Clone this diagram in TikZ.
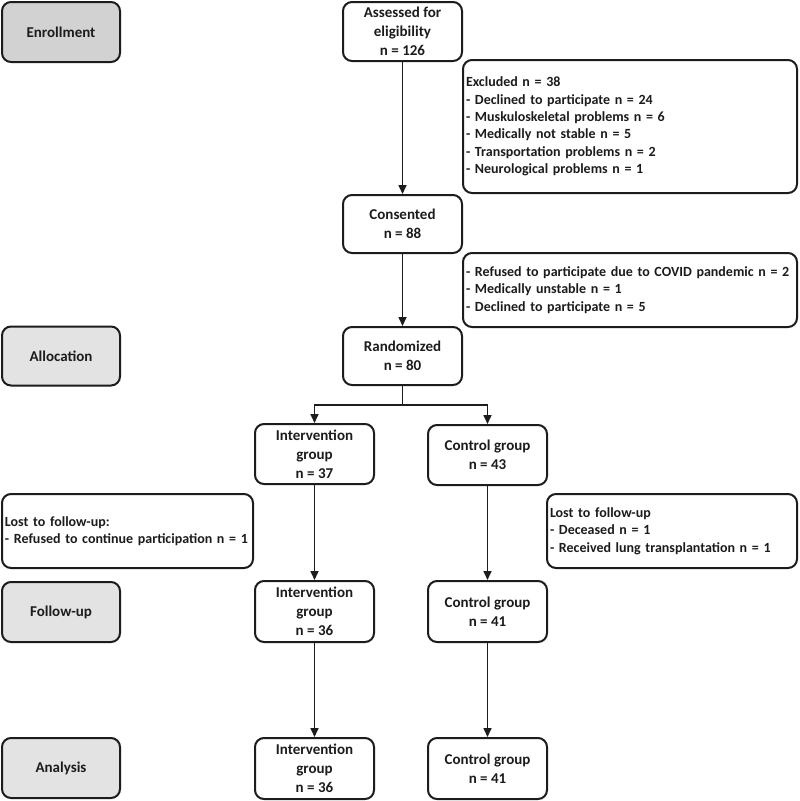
\documentclass[tikz,border=0pt]{standalone}
\usepackage{fontspec}
\setmainfont{Carlito}
\usetikzlibrary{arrows.meta}
\definecolor{phasedark}{HTML}{D2D2D2}
\definecolor{phaselight}{HTML}{E3E3E3}
\definecolor{ink}{HTML}{1C1C1C}
\tikzset{
  box/.style={draw=ink, line width=2pt, rounded corners=9pt, fill=white,
    text=ink, font=\fontsize{15}{19}\selectfont\bfseries, align=center, inner sep=2pt},
  listbox/.style={box, font=\fontsize{14}{17.3}\selectfont\bfseries, align=left, inner xsep=3pt},
  phase/.style={box, fill=phaselight, minimum width=118pt, minimum height=59pt},
  flowbox/.style={box, minimum width=119pt, minimum height=60pt},
  conn/.style={draw=ink, line width=1.6pt, -{Triangle[length=9pt,width=8pt]}},
  plain/.style={draw=ink, line width=1.6pt}
}
\begin{document}
\begin{tikzpicture}[x=1pt,y=-1pt]
\useasboundingbox[fill=white] (0,0) rectangle (800,801);
% phase labels
\node[phase, fill=phasedark, minimum height=60pt] (enr) at (61,32) {Enrollment};
\node[phase] (alloc) at (61,356) {Allocation};
\node[phase, minimum height=60pt] (fu) at (61,612) {Follow-up};
\node[phase, minimum height=60pt] (an) at (61,768) {Analysis};
% main flow
\node[flowbox, minimum height=59pt] (ass) at (402.5,31.5) {Assessed for\\eligibility\\n = 126};
\node[flowbox, minimum height=58pt] (con) at (402.5,224) {Consented\\n = 88};
\node[flowbox, minimum height=58pt] (ran) at (402.5,356) {Randomized\\n = 80};
\node[flowbox] (int1) at (314.5,454) {Intervention\\group\\n = 37};
\node[flowbox] (ctl1) at (487.5,455) {Control group\\n = 43};
\node[flowbox, minimum height=61pt] (int2) at (314.5,611.5) {Intervention\\group\\n = 36};
\node[flowbox, minimum height=61pt] (ctl2) at (487.5,611.5) {Control group\\n = 41};
\node[flowbox, minimum height=61pt] (int3) at (314.5,768.5) {Intervention\\group\\n = 36};
\node[flowbox, minimum height=61pt] (ctl3) at (487.5,768.5) {Control group\\n = 41};
% side boxes
\node[listbox, minimum width=334pt, minimum height=133pt, text width=328pt] (exc) at (630,126.5)
  {Excluded n = 38\\- Declined to participate n = 24\\- Muskuloskeletal problems n = 6\\- Medically not stable n = 5\\- Transportation problems n = 2\\- Neurological problems n = 1};
\node[listbox, minimum width=334pt, minimum height=74pt, text width=328pt] (cov) at (630,290)
  {- Refused to participate due to COVID pandemic n = 2\\- Medically unstable n = 1\\- Declined to participate n = 5};
\node[listbox, minimum width=251pt, minimum height=74pt, text width=245pt] (lostl) at (127.5,531)
  {Lost to follow-up:\\- Refused to continue participation n = 1};
\node[listbox, minimum width=250pt, minimum height=74pt, text width=244pt] (lostr) at (672,531)
  {Lost to follow-up\\- Deceased n = 1\\- Received lung transplantation n = 1};
% connectors
\draw[conn] (ass) -- (con);
\draw[conn] (con) -- (ran);
\coordinate (br) at (402.5,405);
\draw[plain] (ran) -- (br);
\draw[conn] (br) -| (int1);
\draw[conn] (br) -| (ctl1);
\draw[conn] (int1) -- (int2);
\draw[conn] (int2) -- (int3);
\draw[conn] (ctl1) -- (ctl2);
\draw[conn] (ctl2) -- (ctl3);
\end{tikzpicture}
\end{document}
